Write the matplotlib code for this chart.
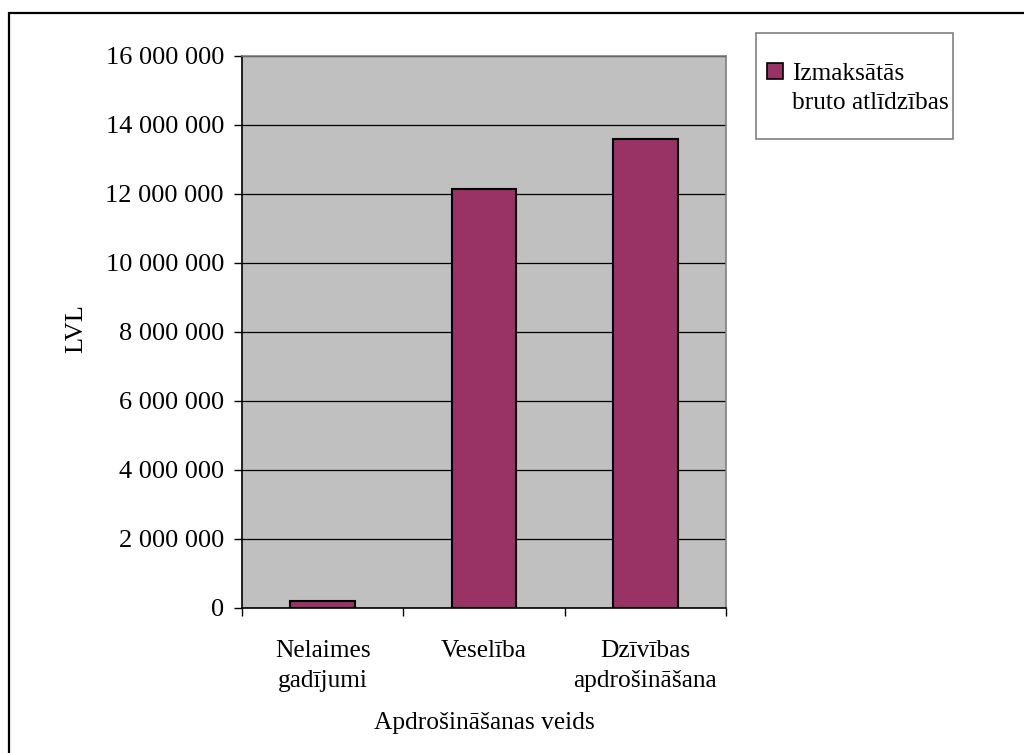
import matplotlib
matplotlib.use("Agg")
import matplotlib.pyplot as plt
from matplotlib.patches import Rectangle
from matplotlib.ticker import FuncFormatter, MultipleLocator, FixedLocator

# Claims paid by insurance type (LVL)
categories = ["Nelaimes\ngadījumi", "Veselība", "Dzīvības\napdrošināšana"]
paid_claims = [200_000, 12_130_000, 13_580_000]
series_label = "Izmaksātās\nbruto atlīdzības"
y_label = "LVL"
x_label = "Apdrošināšanas veids"

plt.rcParams["font.family"] = ["Liberation Serif", "DejaVu Serif"]
FS = 19
FS_CAT = 18.3
BAR_COLOR = "#993366"
PLOT_BG = "#C0C0C0"

W, H = 1024, 753
fig = plt.figure(figsize=(W / 100, H / 100), dpi=100)
fig.patch.set_facecolor("white")

def fx(px):
    return px / W

def fy(py):
    return 1 - py / H

# plot area
left, right, top, bottom = 242, 726, 55.7, 608
ax = fig.add_axes([fx(left), fy(bottom), fx(right - left), (bottom - top) / H])
ax.set_facecolor(PLOT_BG)

xpos = list(range(len(categories)))
ax.bar(xpos, paid_claims, width=0.4, color=BAR_COLOR, edgecolor="black",
       linewidth=1.5, zorder=2)

ax.set_xlim(-0.5, len(categories) - 0.5)
ax.set_ylim(0, 16_000_000)
ax.yaxis.set_major_locator(MultipleLocator(2_000_000))
ax.yaxis.set_major_formatter(FuncFormatter(lambda v, p: f"{int(v):,}".replace(",", " ")))
ax.set_axisbelow(True)
ax.grid(axis="y", color="black", linewidth=0.9)

# category labels centred, tick marks on category boundaries
ax.set_xticks(xpos)
ax.set_xticklabels(categories, fontsize=FS_CAT, linespacing=1.5)
ax.tick_params(axis="x", which="major", length=0, pad=23)
ax.xaxis.set_minor_locator(FixedLocator([-0.5, 0.5, 1.5, 2.5]))
ax.tick_params(axis="x", which="minor", length=6, width=1, color="black")
ax.tick_params(axis="y", length=6, width=1, pad=7, labelsize=FS)

for s in ("left", "bottom"):
    ax.spines[s].set_color("black")
    ax.spines[s].set_linewidth(1.2)
for s in ("top", "right"):
    ax.spines[s].set_color("#808080")
    ax.spines[s].set_linewidth(1.2)

ax.set_ylabel(y_label, fontsize=FS)
ax.yaxis.set_label_coords((76.5 - left) / (right - left), (bottom - 329) / (bottom - top))
ax.yaxis.label.set_va("center")
ax.set_xlabel(x_label, fontsize=FS_CAT)
ax.xaxis.set_label_coords(0.5, (bottom - 723) / (bottom - top))
ax.xaxis.label.set_va("center")

# legend box
fig.patches.append(Rectangle((fx(756), fy(139)), fx(953 - 756), (139 - 33) / H,
                             transform=fig.transFigure, facecolor="white",
                             edgecolor="#808080", linewidth=1.2))
fig.patches.append(Rectangle((fx(767), fy(79)), fx(16), 16 / H,
                             transform=fig.transFigure, facecolor=BAR_COLOR,
                             edgecolor="black", linewidth=1.2))
fig.text(fx(792), fy(63), series_label, fontsize=FS_CAT, ha="left", va="top",
         linespacing=1.42, transform=fig.transFigure)

# outer chart frame
fig.patches.append(Rectangle((fx(9), -0.1), 1.2, fy(13) + 0.1,
                             transform=fig.transFigure, fill=False,
                             edgecolor="black", linewidth=1.6))

fig.savefig("out.png", dpi=100)
